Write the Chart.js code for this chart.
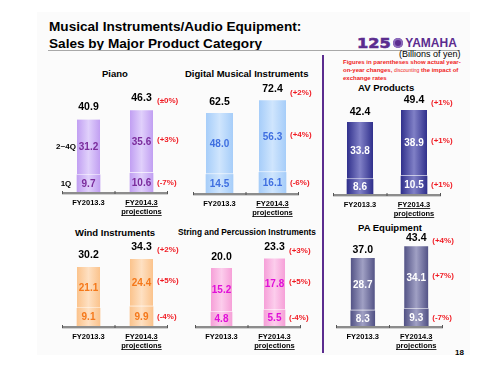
<!DOCTYPE html>
<html lang="en">
<head>
<meta charset="UTF-8">
<title>Sales by Major Product Category</title>
<script src="https://cdn.jsdelivr.net/npm/chart.js"></script>
<style>
    body { margin: 0; width: 500px; height: 375px; background: #fff; position: relative; overflow: hidden;
           font-family: 'Liberation Sans', Arial, sans-serif; }
    .slide { position: absolute; left: 37px; top: 12px; width: 433px; height: 343px; background: #fbfbfb; }
    canvas { position: absolute; left: 0; top: 0; }
    .t { position: absolute; white-space: nowrap; font-weight: bold; color: #000; }
    .ttl { font-size: 9.5px; transform: translateY(-50%); }
    #title { left: 49px; top: 18px; font-size: 13.6px; line-height: 17px; }
    #rule { position: absolute; left: 48px; top: 50px; width: 412px; height: 1px; background: #a8a8a8; }
    #divider { position: absolute; left: 322px; top: 55px; width: 2px; height: 298px; background: #5b2c8f; }
    #logo { position: absolute; left: 357px; top: 33px; color: #5b2c8f; font-weight: bold; white-space: nowrap; }
    #logo .n { font-family: 'DejaVu Sans', sans-serif; font-weight: 900; font-size: 14px; vertical-align: middle;
               display: inline-block; transform: scaleX(1.15); transform-origin: left; margin-right: 5px;
               -webkit-text-stroke: 0.6px #5b2c8f; }
    #logo .e { display: inline-block; width: 10px; height: 10px; border-radius: 50%; background: #5b2c8f;
               vertical-align: middle; margin: 0 2px; box-shadow: inset 0 0 0 2px #8c6cbc; }
    #logo .y { font-size: 12px; vertical-align: middle; }
    #unit { position: absolute; left: 399px; top: 49px; font-size: 9px; white-space: nowrap; }
    #note { position: absolute; left: 343px; top: 58px; font-size: 6px; line-height: 8px; color: #f01c24;
            font-weight: bold; white-space: nowrap; }
    #note small { font-size: 5px; font-weight: normal; }
    #page { left: 455px; top: 348px; font-size: 8px; }
</style>
</head>
<body>
<div class="slide"></div>
<div id="title" class="t">Musical Instruments/Audio Equipment:<br>Sales by Major Product Category</div>
<div id="rule"></div>
<div id="logo"><span class="n">125</span><span class="e"></span><span class="y">YAMAHA</span></div>
<div id="unit">(Billions of yen)</div>
<div id="note">Figures in parentheses show actual year-<br>on-year changes, <small>discounting</small> the impact of<br>exchange rates</div>
<div id="divider"></div>

<div class="t ttl" style="left:102px; top:73px;">Piano</div>
<div class="t ttl" style="left:185px; top:73px;">Digital Musical Instruments</div>
<div class="t ttl" style="left:358px; top:87px;">AV Products</div>
<div class="t ttl" style="left:75px; top:232px;">Wind Instruments</div>
<div class="t ttl" style="left:178px; top:232px; font-size:8.3px;">String and Percussion Instruments</div>
<div class="t ttl" style="left:358px; top:227px;">PA Equipment</div>
<div id="page" class="t">18</div>

<script>
    // Datos (miles de millones de yenes)
    const categories = ['FY2013.3', 'FY2014.3'];
    const projectionNote = 'projections';
    const segmentNames = ['1Q', '2~4Q'];

    const pianoQ1 = [9.7, 10.6];
    const pianoRest = [31.2, 35.6];
    const pianoTotal = [40.9, 46.3];
    const pianoChange = ['(-7%)', '(+3%)', '(±0%)'];   // 1Q, 2~4Q, total

    const digitalQ1 = [14.5, 16.1];
    const digitalRest = [48.0, 56.3];
    const digitalTotal = [62.5, 72.4];
    const digitalChange = ['(-6%)', '(+4%)', '(+2%)'];

    const avQ1 = [8.6, 10.5];
    const avRest = [33.8, 38.9];
    const avTotal = [42.4, 49.4];
    const avChange = ['(+1%)', '(+1%)', '(+1%)'];

    const windQ1 = [9.1, 9.9];
    const windRest = [21.1, 24.4];
    const windTotal = [30.2, 34.3];
    const windChange = ['(-4%)', '(+5%)', '(+2%)'];

    const stringQ1 = [4.8, 5.5];
    const stringRest = [15.2, 17.8];
    const stringTotal = [20.0, 23.3];
    const stringChange = ['(-4%)', '(+5%)', '(+3%)'];

    const paQ1 = [8.3, 9.3];
    const paRest = [28.7, 34.1];
    const paTotal = [37.0, 43.4];
    const paChange = ['(-7%)', '(+7%)', '(+4%)'];

    // Paneles: posición del área de dibujo, escala (px por unidad) y colores
    const panels = [
        { q1: pianoQ1, rest: pianoRest, total: pianoTotal, change: pianoChange, left: 62, right: 168, base: 192, ppu: 1.77, bar: 23,
          edge: '#c19ff2', mid: '#e0d0fb', ink: '#7b2c9c', names: true, gap: 12 },
        { q1: digitalQ1, rest: digitalRest, total: digitalTotal, change: digitalChange, left: 193, right: 299, base: 193, ppu: 1.28, bar: 27,
          edge: '#a6cdf9', mid: '#cfe5fd', ink: '#3f6fe0', gap: 11 },
        { q1: avQ1, rest: avRest, total: avTotal, change: avChange, left: 333, right: 441, base: 194, ppu: 1.70, bar: 26,
          edge: '#30308c', mid: '#8080c6', ink: '#ffffff', gap: 10 },
        { q1: windQ1, rest: windRest, total: windTotal, change: windChange, left: 62, right: 168, base: 326, ppu: 1.95, bar: 23,
          edge: '#fbc38c', mid: '#fee0c2', ink: '#f5781a', gap: 12 },
        { q1: stringQ1, rest: stringRest, total: stringTotal, change: stringChange, left: 195, right: 301, base: 326, ppu: 2.9, bar: 21,
          edge: '#f6a0d8', mid: '#fccdec', ink: '#e010d8', gap: 11 },
        { q1: paQ1, rest: paRest, total: paTotal, change: paChange, left: 336, right: 443, base: 326, ppu: 1.84, bar: 24,
          edge: '#535386', mid: '#a0a0c4', ink: '#ffffff', gap: 8 }
    ];

    const FONT = "'Liberation Sans', Arial, sans-serif";

    function gradientFor(p) {
        return function(context) {
            if (context.type !== 'data') return p.edge;
            const chart = context.chart;
            const xs = chart.scales.x;
            if (!xs || !chart.chartArea) return p.edge;
            const cx = xs.getPixelForValue(context.dataIndex);
            const g = chart.ctx.createLinearGradient(cx - p.bar / 2, 0, cx + p.bar / 2, 0);
            g.addColorStop(0, p.edge);
            g.addColorStop(0.5, p.mid);
            g.addColorStop(1, p.edge);
            return g;
        };
    }

    // Etiquetas, eje y textos de categoría
    function labelsFor(p) {
        return {
            id: 'labels',
            afterDatasetsDraw(chart) {
                const ctx = chart.ctx;
                const xs = chart.scales.x, ys = chart.scales.y;
                const area = chart.chartArea;
                const low = chart.getDatasetMeta(0).data;
                const up = chart.getDatasetMeta(1).data;
                const y0 = ys.getPixelForValue(0);

                ctx.save();
                // eje
                ctx.strokeStyle = '#d0d0d0';
                ctx.lineWidth = 1;
                ctx.beginPath(); ctx.moveTo(area.left, y0 + 2.5); ctx.lineTo(area.right, y0 + 2.5); ctx.stroke();
                ctx.strokeStyle = '#8c8c8c';
                ctx.lineWidth = 2;
                ctx.beginPath(); ctx.moveTo(area.left, y0 + 1); ctx.lineTo(area.right, y0 + 1); ctx.stroke();
                const midX = (xs.getPixelForValue(0) + xs.getPixelForValue(1)) / 2;
                ctx.lineWidth = 1;
                ctx.strokeStyle = '#555';
                [area.left + 0.5, midX, area.right - 0.5].forEach(x => {
                    ctx.beginPath(); ctx.moveTo(x, y0 - 1); ctx.lineTo(x, y0 + 2); ctx.stroke();
                });

                ctx.textBaseline = 'middle';
                ctx.textAlign = 'center';
                for (let i = 0; i < categories.length; i++) {
                    const cx = xs.getPixelForValue(i);
                    const lowMid = (low[i].y + low[i].base) / 2;
                    const upMid = (up[i].y + up[i].base) / 2;
                    const top = up[i].y;

                    ctx.fillStyle = p.ink;
                    ctx.font = 'bold 10px ' + FONT;
                    ctx.fillText(p.q1[i].toFixed(1), cx, lowMid + 0.5);
                    ctx.fillText(p.rest[i].toFixed(1), cx, upMid + 0.5);

                    ctx.fillStyle = '#000';
                    ctx.font = 'bold 10.5px ' + FONT;
                    ctx.fillText(p.total[i].toFixed(1), cx, top - p.gap);

                    // categoría
                    ctx.font = 'bold 7.5px ' + FONT;
                    ctx.fillText(categories[i], cx, y0 + 10.5);
                    if (i === 1) {
                        ctx.fillText(projectionNote, cx, y0 + 19.5);
                        ctx.lineWidth = 0.8;
                        ctx.strokeStyle = '#000';
                        [[categories[i], y0 + 14.5], [projectionNote, y0 + 23.5]].forEach(([s, y]) => {
                            const w = ctx.measureText(s).width;
                            ctx.beginPath(); ctx.moveTo(cx - w / 2, y); ctx.lineTo(cx + w / 2, y); ctx.stroke();
                        });

                        // variaciones
                        ctx.fillStyle = '#f01c24';
                        ctx.font = 'bold 8px ' + FONT;
                        ctx.textAlign = 'left';
                        const px = cx + p.bar / 2 + 4;
                        ctx.fillText(p.change[2], px, top - p.gap + 3);
                        ctx.fillText(p.change[1], px, upMid - 2);
                        ctx.fillText(p.change[0], px, lowMid);
                        ctx.textAlign = 'center';
                    }
                }

                if (p.names) {
                    const nx = xs.getPixelForValue(0) - p.bar / 2 - 11;
                    ctx.fillStyle = '#000';
                    ctx.font = 'bold 8px ' + FONT;
                    ctx.fillText(segmentNames[0], nx, (low[0].y + low[0].base) / 2);
                    ctx.fillText(segmentNames[1], nx, (up[0].y + up[0].base) / 2);
                }
                ctx.restore();
            }
        };
    }

    panels.forEach(p => {
        const canvas = document.createElement('canvas');
        canvas.width = 500;
        canvas.height = 375;
        document.body.appendChild(canvas);

        new Chart(canvas.getContext('2d'), {
            type: 'bar',
            data: {
                labels: categories,
                datasets: [
                    { label: segmentNames[0], data: p.q1, backgroundColor: gradientFor(p),
                      borderWidth: 0, barThickness: p.bar },
                    { label: segmentNames[1], data: p.rest, backgroundColor: gradientFor(p),
                      borderColor: 'rgba(255,255,255,0.9)', borderWidth: { bottom: 1.2 }, borderSkipped: false,
                      barThickness: p.bar }
                ]
            },
            options: {
                responsive: false,
                animation: false,
                layout: { padding: { left: p.left, right: 500 - p.right, top: p.base - 100, bottom: 375 - p.base } },
                scales: {
                    x: { stacked: true, display: false, offset: true },
                    y: { stacked: true, display: false, min: 0, max: 100 / p.ppu }
                },
                plugins: { legend: { display: false }, tooltip: { enabled: false } }
            },
            plugins: [labelsFor(p)]
        });
    });
</script>
</body>
</html>
